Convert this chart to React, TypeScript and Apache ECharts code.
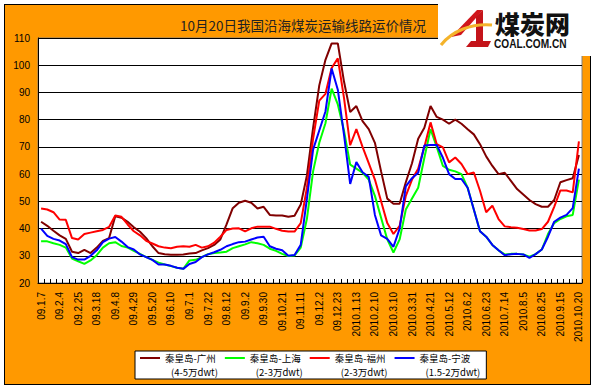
import React, { useEffect, useRef } from "react";
import * as echarts from "echarts";

const tickLabels = [
  "09.1.7", "09.2.4", "09.2.25", "09.3.18", "09.4.8", "09.4.29", "09.5.20", "09.6.10",
  "09.7.1", "09.7.22", "09.8.12", "09.9.2", "09.9.30", "09.10.21", "09.11.11", "09.12.2",
  "09.12.23", "2010.1.13", "2010.2.10", "2010.3.10", "2010.3.31", "2010.4.21", "2010.5.12",
  "2010.6.2", "2010.6.23", "2010.7.14", "2010.8.5", "2010.8.25", "2010.9.15", "2010.10.20",
];

const guangzhou = [
  42.5, 41, 39.2, 37.5, 36.2, 31.5, 31, 32.2, 31, 33, 35.5, 36.5, 44.5, 44, 42.5, 40.5,
  38.8, 36.5, 33.5, 31, 30.6, 30.4, 30.4, 30.5, 30.8, 31, 32, 32.8, 34, 36, 41.5, 47.5,
  49.5, 50.2, 49.5, 47.4, 48, 45, 44.8, 44.8, 44.3, 44.7, 48.8, 59.5, 77, 92.6, 102, 108,
  108, 94, 82.8, 85, 79.5, 76.5, 71.5, 61, 51, 49.1, 49.1,
  57, 64, 73, 77, 85, 81, 80, 78.5, 80, 78.5, 76.5, 74.6, 71, 66.5, 63, 60, 60.5, 57.5,
  54.5, 52.5, 50.5, 49, 48, 48, 50.5, 57, 57.8, 58.5, 67,
];

const shanghai = [
  35.3, 35.3, 34.6, 34, 33, 29, 28, 27, 28.3, 30.2, 33, 34.6, 35, 33.6, 33, 31.8, 30.7,
  29.5, 28.5, 27.5, 26.8, 26.2, 25.6, 25.2, 28.3, 28.5, 29.5, 30.6, 31, 31.2, 31.5, 32.8,
  33.5, 34.2, 35, 34.6, 34, 32.6, 31.8, 30.7, 29.9, 30.1, 33, 43.6, 61, 71.5, 78.7, 91.4,
  85.6, 76, 63.5, 62, 60.5, 58, 52, 44, 36, 31.2, 36,
  47, 51, 55, 66, 76.5, 70, 63, 61.6, 61, 60, 55, 47, 39, 37, 34, 32, 30.5, 30.7, 30.7,
  30.5, 29.7, 30.6, 32.3, 38, 42, 43.5, 44.5, 45, 58,
];

const fuzhou = [
  47.4, 47, 46, 43.3, 43.2, 36.5, 36, 38, 38.5, 39, 39.5, 40.6, 44.8, 44.3, 41.5, 39, 37.5,
  35.5, 34.5, 33.5, 33, 32.8, 33.3, 33.5, 33.3, 34, 33, 33.5, 34.8, 37, 39.5, 40,
  40.1, 39, 40.1, 40.7, 40.7, 40.7, 39.9, 39.2, 38.9, 38.9, 42, 55, 73, 87, 89.5, 99,
  102.5, 88, 70.6, 76.5, 70, 64, 58, 50, 42, 38, 41,
  52, 58, 62, 70, 79, 71, 69.8, 64.3, 66.1, 63.7, 60, 60.6, 53.9, 46, 48.4, 43.5, 40.8,
  40.5, 40.3, 39.8, 39.3, 39.3, 39.8, 42.5, 48, 54, 54, 53.3, 72,
];

const ningbo = [
  40, 37.3, 36.2, 35.6, 34.3, 29.5, 28.6, 28.6, 30, 32, 35, 36.3, 36.9, 35.2, 33.2, 32.3,
  30.5, 29.5, 28.5, 26.8, 26.8, 26.3, 25.6, 25.2, 27, 27.7, 29.5, 30.5, 31.3, 32.2, 33.5, 34.3,
  35, 35.2, 36, 36.7, 37, 33.5, 32.6, 32, 30, 30.3, 34, 50.9, 69, 76, 83, 98.8, 91, 74.5,
  56.4, 64.4, 60.7, 59, 45, 37.5, 36.2, 33.3, 40,
  55.5, 58.5, 60.5, 70.5, 70.7, 70.7, 66, 60, 58.2, 58.2, 55, 47, 39, 37, 34, 32, 30.2,
  30.6, 30.7, 30.5, 29.2, 30.6, 32.3, 37, 42.5, 44, 45, 47.5, 62,
];

const seriesNames = ["秦皇岛-广州", "秦皇岛-上海", "秦皇岛-福州", "秦皇岛-宁波"];
const seriesNotes = ["(4-5万dwt)", "(2-3万dwt)", "(2-3万dwt)", "(1.5-2万dwt)"];
const seriesColors = ["#800000", "#00FF00", "#FF0000", "#0000FF"];
const seriesValues = [guangzhou, shanghai, fuzhou, ningbo];

const titleText = "10月20日我国沿海煤炭运输线路运价情况";

const categories = guangzhou.map((_, i) => (i % 3 === 0 ? tickLabels[i / 3] : "w" + i));

const CJK = "'Noto Sans CJK SC', 'Noto Sans', sans-serif";
const SANS = "'Liberation Sans', Arial, sans-serif";

export default function App() {
  const ref = useRef<HTMLDivElement>(null);

  useEffect(() => {
    if (!ref.current) return;
    const chart = echarts.init(ref.current, undefined, { renderer: "svg" });
    const noteOf: Record<string, string> = {};
    seriesNames.forEach((n, i) => (noteOf[n] = seriesNotes[i]));

    chart.setOption({
      animation: false,
      backgroundColor: "transparent",
      title: {
        text: titleText,
        left: 175,
        top: 13,
        textStyle: { fontSize: 13.5, fontWeight: "normal", color: "#222", fontFamily: CJK },
      },
      grid: {
        left: 38,
        top: 38,
        width: 544,
        height: 245,
        show: true,
        backgroundColor: "#fff",
        borderColor: "#808080",
        borderWidth: 1,
      },
      legend: {
        left: 135,
        top: 351,
        itemGap: 7,
        itemWidth: 20,
        itemHeight: 28,
        padding: [0, 6, 0, 5],
        backgroundColor: "#fff",
        borderColor: "#000",
        borderWidth: 1,
        borderRadius: 0,
        icon: "path://M0,0L0,0M0,6L20,6L20,8L0,8ZM0,28L0,28",
        data: seriesNames,
        formatter: (name: string) => `{a|${name}}\n{b|${noteOf[name]}}`,
        textStyle: {
          color: "#000",
          fontFamily: CJK,
          fontSize: 9.5,
          rich: {
            a: { fontSize: 9.5, lineHeight: 14, fontFamily: CJK, color: "#000" },
            b: { fontSize: 9.5, lineHeight: 14, fontFamily: CJK, color: "#000", padding: [0, 0, 0, 6] },
          },
        },
      },
      xAxis: {
        type: "category",
        data: categories,
        boundaryGap: true,
        axisLine: { show: true, lineStyle: { color: "#000", width: 1 } },
        axisTick: { show: true, inside: true, length: 4, interval: 0, lineStyle: { color: "#000" } },
        axisLabel: {
          interval: 2,
          rotate: 90,
          margin: 9,
          fontSize: 10,
          fontFamily: SANS,
          color: "#000",
        },
        splitLine: { show: false },
      },
      yAxis: {
        type: "value",
        min: 20,
        max: 110,
        interval: 10,
        axisLine: { show: true, lineStyle: { color: "#000", width: 1 } },
        axisTick: { show: false },
        axisLabel: { margin: 8, fontSize: 10, fontFamily: SANS, color: "#000" },
        splitLine: { show: true, lineStyle: { color: "#000", width: 1 } },
      },
      series: seriesNames.map((name, i) => ({
        name,
        type: "line",
        data: seriesValues[i],
        symbol: "none",
        color: seriesColors[i],
        itemStyle: { color: seriesColors[i] },
        lineStyle: { color: seriesColors[i], width: 2 },
        z: 2 + i,
      })),
      graphic: [
        { type: "rect", z: 100, shape: { x: 438, y: 0, width: 157, height: 56 }, style: { fill: "#fff" } },
        {
          type: "polygon",
          z: 101,
          shape: { points: [[477, 10], [483, 10], [461, 35], [451, 37]] },
          style: { fill: "#D0161C" },
        },
        {
          type: "polygon",
          z: 101,
          shape: { points: [[476, 17], [483, 10], [483, 47], [476, 47]] },
          style: { fill: "#C4141A" },
        },
        {
          type: "polygon",
          z: 101,
          shape: { points: [[466, 47], [471, 41], [491, 41], [488, 47]] },
          style: { fill: "#C4141A" },
        },
        {
          type: "bezierCurve",
          z: 102,
          shape: { x1: 441, y1: 45, cpx1: 452, cpy1: 31, cpx2: 472, cpy2: 23, x2: 492, y2: 25 },
          style: { stroke: "#F4B32A", lineWidth: 3, fill: "none" },
        },
        {
          type: "text",
          z: 101,
          x: 495,
          y: 10,
          style: { text: "煤炭网", fontSize: 25, fontWeight: 900, fill: "#111", fontFamily: CJK },
        },
        {
          type: "text",
          z: 101,
          x: 494,
          y: 36,
          scaleX: 0.78,
          style: { text: "COAL.COM.CN", fontSize: 13, fontWeight: "bold", fill: "#111", fontFamily: SANS },
        },
      ],
    });
    return () => chart.dispose();
  }, []);

  return (
    <div style={{ position: "fixed", left: 0, top: 0, width: 595, height: 388, background: "#fff" }}>
      <div
        style={{
          position: "absolute",
          left: 4,
          top: 4,
          width: 587,
          height: 381,
          boxSizing: "border-box",
          border: "1px solid #000",
          background: "#FF9900",
        }}
      />
      <div ref={ref} style={{ position: "absolute", left: 0, top: 0, width: 595, height: 388 }} />
    </div>
  );
}
